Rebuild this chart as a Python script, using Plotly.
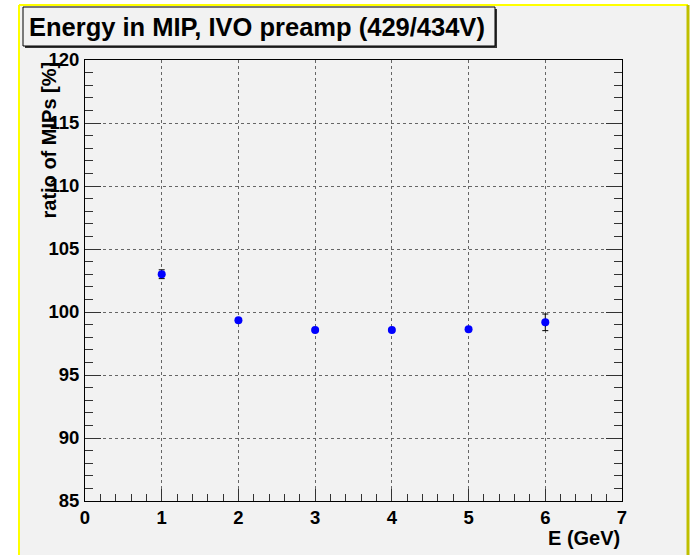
import plotly.graph_objects as go

# Data
energy = [1, 2, 3, 4, 5, 6]
ratio = [103.0, 99.34, 98.57, 98.57, 98.63, 99.18]
ratio_err = [0.35, 0.12, 0.1, 0.1, 0.12, 0.66]

title_text = "Energy in MIP, IVO preamp (429/434V)"
x_title = "E (GeV)"
y_title = "ratio of MIPs [%]"

W, H = 691, 555
L, R, T, B = 85, 622, 60, 501


def px(x):
    return (x - L) / (R - L)


def py(y):
    return (B - y) / (B - T)


BG = "#F2F2F2"
FONT = "Liberation Sans"

fig = go.Figure()
fig.add_trace(go.Scatter(
    x=energy, y=ratio, mode="markers",
    marker=dict(color="#0000FF", size=8, line=dict(width=0)),
    error_y=dict(type="data", array=ratio_err, visible=True,
                 color="black", thickness=1, width=3),
    showlegend=False,
))

shapes = [
    # canvas fill
    dict(type="rect", xref="paper", yref="paper", layer="below",
         x0=px(19), x1=px(688), y0=py(5), y1=py(600),
         fillcolor=BG, line=dict(width=0)),
    # yellow frame lines
    dict(type="line", xref="paper", yref="paper", layer="below",
         x0=px(19), x1=px(688), y0=py(5), y1=py(5),
         line=dict(color="#FFFF00", width=2)),
    dict(type="line", xref="paper", yref="paper", layer="below",
         x0=px(19), x1=px(19), y0=py(5), y1=py(600),
         line=dict(color="#FFFF00", width=2)),
    dict(type="line", xref="paper", yref="paper", layer="below",
         x0=px(688), x1=px(688), y0=py(5), y1=py(600),
         line=dict(color="#BFBF00", width=3)),
    # title box shadow
    dict(type="rect", xref="paper", yref="paper", layer="above",
         x0=px(25), x1=px(497), y0=py(9), y1=py(48),
         fillcolor="#333333", line=dict(width=0)),
    # title box
    dict(type="rect", xref="paper", yref="paper", layer="above",
         x0=px(23), x1=px(495), y0=py(7), y1=py(46),
         fillcolor=BG, line=dict(color="black", width=1)),
]

annotations = [
    dict(text=title_text, xref="paper", yref="paper",
         x=px(27), y=py(27), xanchor="left", yanchor="middle",
         showarrow=False,
         font=dict(family=FONT, size=25.5, color="black", weight="bold")),
    dict(text=x_title, xref="paper", yref="paper",
         x=1.0, y=py(538), xanchor="right", yanchor="middle",
         showarrow=False,
         font=dict(family=FONT, size=20, color="black", weight="bold")),
    dict(text=y_title, xref="paper", yref="paper", textangle=-90,
         x=px(48), y=1.0, xanchor="center", yanchor="top",
         showarrow=False,
         font=dict(family=FONT, size=20, color="black", weight="bold")),
]

fig.update_layout(
    width=W, height=H,
    margin=dict(l=L, r=W - R, t=T, b=H - B, pad=0),
    paper_bgcolor="white",
    plot_bgcolor="rgba(0,0,0,0)",
    shapes=shapes,
    annotations=annotations,
    xaxis=dict(
        range=[0, 7], dtick=1, tick0=0,
        showline=True, linecolor="black", linewidth=1, mirror=True,
        ticks="inside", ticklen=12, tickcolor="#333333", tickwidth=1,
        minor=dict(ticks="inside", ticklen=7, dtick=0.2, tickcolor="#333333",
                   showgrid=False),
        showgrid=True, gridcolor="#666666", griddash="dot", gridwidth=1,
        zeroline=False,
        ticklabelstandoff=0,
        tickfont=dict(family=FONT, size=18.5, color="black", weight="bold"),
    ),
    yaxis=dict(
        range=[85, 120], dtick=5, tick0=85,
        showline=True, linecolor="black", linewidth=1, mirror="ticks",
        ticks="inside", ticklen=16, tickcolor="#333333", tickwidth=1,
        minor=dict(ticks="inside", ticklen=8, dtick=1, tickcolor="#333333",
                   showgrid=False),
        showgrid=True, gridcolor="#666666", griddash="dot", gridwidth=1,
        zeroline=False,
        ticklabelstandoff=1,
        tickfont=dict(family=FONT, size=18.5, color="black", weight="bold"),
    ),
)

fig.write_html("out.html")
